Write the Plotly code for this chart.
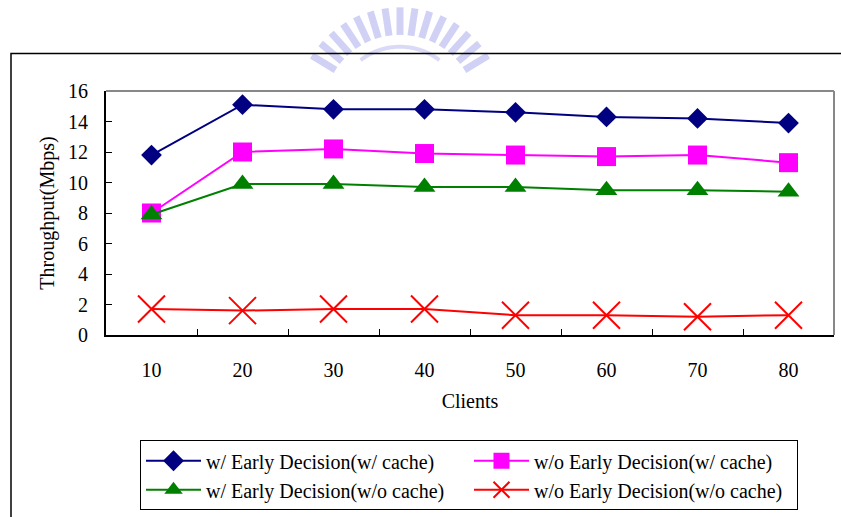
import math
import plotly.graph_objects as go

# Throughput per number of clients, four configurations
clients = ["10", "20", "30", "40", "50", "60", "70", "80"]
ed_cache = [11.8, 15.1, 14.8, 14.8, 14.6, 14.3, 14.2, 13.9]
no_ed_cache = [8.0, 12.0, 12.2, 11.9, 11.8, 11.7, 11.8, 11.3]
ed_no_cache = [7.9, 9.9, 9.9, 9.7, 9.7, 9.5, 9.5, 9.4]
no_ed_no_cache = [1.7, 1.6, 1.7, 1.7, 1.3, 1.3, 1.2, 1.3]

names = [
    "w/ Early Decision(w/ cache)",
    "w/o Early Decision(w/ cache)",
    "w/ Early Decision(w/o cache)",
    "w/o Early Decision(w/o cache)",
]
y_ticks = [0, 2, 4, 6, 8, 10, 12, 14, 16]

W, H = 841, 517
L, R, T, B = 106, 834, 91, 339  # plot area in pixels
FONT = "Liberation Serif, Times New Roman, serif"


def px(x):
    return (x - L) / (R - L)


def py(y):
    return (B - y) / (B - T)


styles = [
    dict(color="#000080", symbol="diamond", size=16),
    dict(color="#FF00FF", symbol="square", size=19),
    dict(color="#008000", symbol="triangle-up", size=19),
    dict(color="#FF0000", symbol="x-thin", size=27),
]

fig = go.Figure()
for name, vals, st in zip(names, [ed_cache, no_ed_cache, ed_no_cache, no_ed_no_cache], styles):
    marker = dict(symbol=st["symbol"], size=st["size"], color=st["color"])
    if st["symbol"] == "x-thin":
        marker["line"] = dict(color=st["color"], width=2)
    else:
        marker["line"] = dict(width=0)
    fig.add_trace(go.Scatter(
        x=clients, y=vals, name=name, mode="lines+markers",
        line=dict(color=st["color"], width=2), marker=marker,
    ))

shapes = []
# faint seal emblem above the frame
cx, cy = 400, 110
n_bars = 15
for i in range(n_bars):
    a = math.radians(32 + i * (116 / (n_bars - 1)))
    x0, y0 = cx + 76 * math.cos(a), cy - 76 * math.sin(a)
    x1, y1 = cx + 104 * math.cos(a), cy - 104 * math.sin(a)
    shapes.append(dict(type="line", xref="paper", yref="paper", layer="below",
                       x0=px(x0), y0=py(y0), x1=px(x1), y1=py(y1),
                       line=dict(color="rgba(140,140,230,0.40)", width=7)))
arc = []
for k in range(30):
    a = math.radians(52 + k * (76 / 29))
    arc.append((cx + 64 * math.cos(a), cy - 64 * math.sin(a)))
path = "M " + " L ".join(f"{px(x):.5f},{py(y):.5f}" for x, y in arc)
shapes.append(dict(type="path", xref="paper", yref="paper", layer="below", path=path,
                   line=dict(color="rgba(140,140,230,0.32)", width=4)))

# outer frame around the figure
shapes.append(dict(type="rect", xref="paper", yref="paper",
                   x0=px(11), x1=px(860), y0=py(53), y1=py(540),
                   line=dict(color="black", width=1.5), fillcolor="rgba(0,0,0,0)"))
# grey top/right edges of the plot area
shapes.append(dict(type="line", xref="paper", yref="paper",
                   x0=0, x1=1, y0=1, y1=1, line=dict(color="#888888", width=2)))
shapes.append(dict(type="line", xref="paper", yref="paper",
                   x0=1, x1=1, y0=0, y1=1, line=dict(color="#888888", width=2)))

fig.update_layout(
    width=W, height=H,
    margin=dict(l=L, r=W - R, t=T, b=H - B, pad=0),
    paper_bgcolor="white", plot_bgcolor="white",
    font=dict(family=FONT, size=20, color="black"),
    showlegend=True,
    legend=dict(
        orientation="h", x=px(140), y=py(446), xanchor="left", yanchor="top",
        bordercolor="black", borderwidth=1, bgcolor="white",
        entrywidth=258, entrywidthmode="pixels", traceorder="normal",
        font=dict(family=FONT, size=20), itemwidth=55,
    ),
    shapes=shapes,
    xaxis=dict(
        type="category", categoryorder="array", categoryarray=clients,
        range=[-0.5, len(clients) - 0.5],
        showline=True, linecolor="black", linewidth=2,
        ticks="inside", tickson="boundaries", ticklen=6, tickcolor="black", tickwidth=1,
        showgrid=False, zeroline=False, ticklabelstandoff=16,
        tickfont=dict(family=FONT, size=20),
        title=dict(text="Clients", font=dict(family=FONT, size=20), standoff=14),
    ),
    yaxis=dict(
        range=[0, 16], tickvals=y_ticks,
        showline=True, linecolor="black", linewidth=2,
        ticks="inside", ticklen=6, tickcolor="black", tickwidth=1,
        showgrid=False, zeroline=False, ticklabelstandoff=12,
        tickfont=dict(family=FONT, size=20),
        title=dict(text="Throughput(Mbps)", font=dict(family=FONT, size=20), standoff=8),
    ),
)

fig.write_html("out.html")
